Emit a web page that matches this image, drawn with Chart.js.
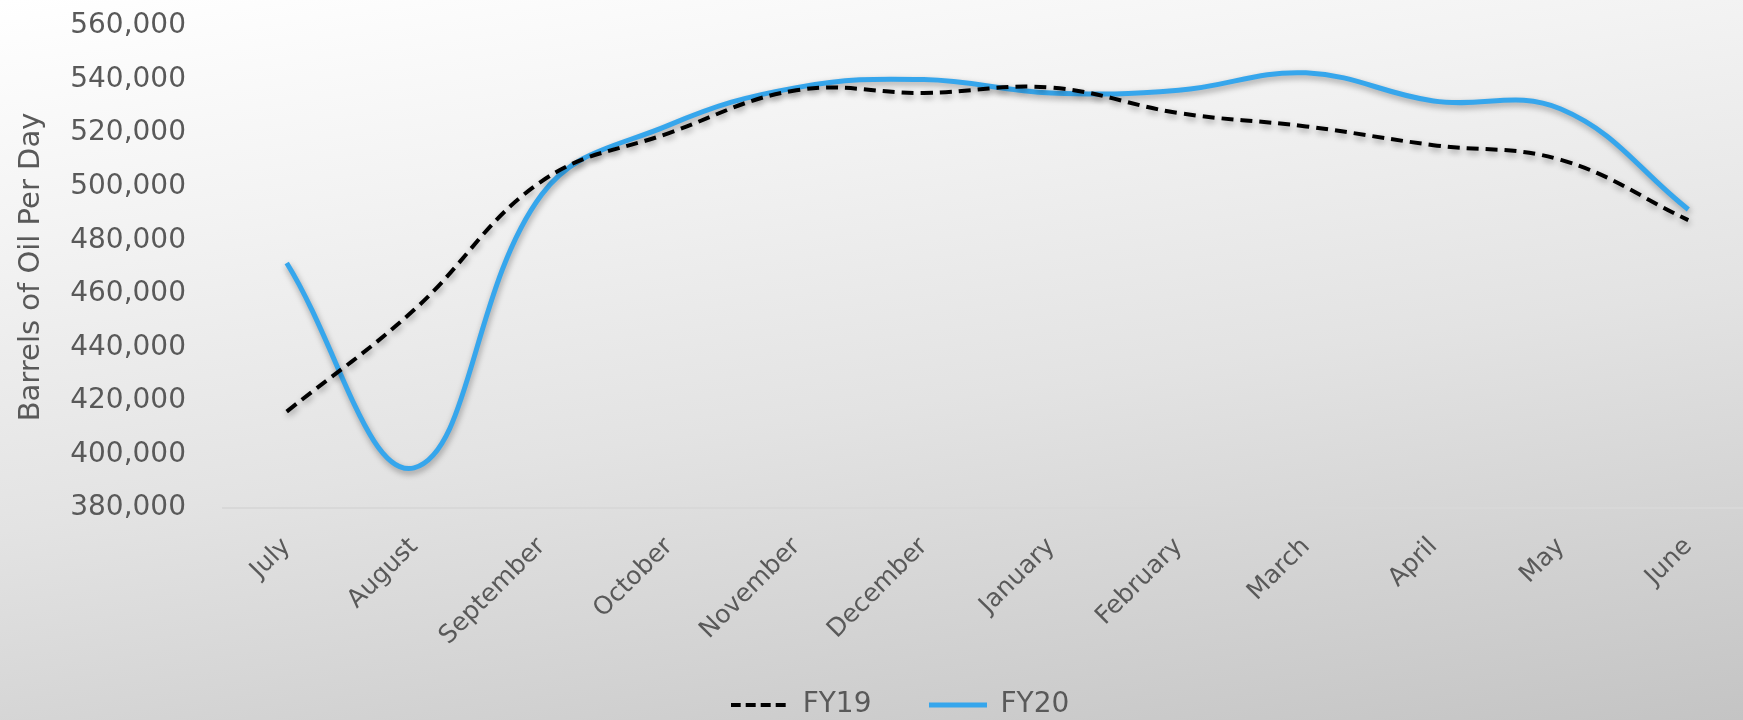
<!DOCTYPE html>
<html>
<head>
<meta charset="utf-8">
<script src="https://cdn.jsdelivr.net/npm/chart.js@4/dist/chart.umd.min.js"></script>
<style>
    html, body { margin: 0; padding: 0; overflow: hidden; }
    body {
        width: 1743px;
        height: 720px;
        background: linear-gradient(172deg, #ffffff 0%, #f3f3f3 25%, #e3e3e3 55%, #c4c4c4 100%);
    }
    #wrap { width: 1760px; height: 720px; position: relative; }
</style>
</head>
<body>
<div id="wrap"><canvas id="oilChart"></canvas></div>
<script>
// months of the fiscal year
const months = ['July', 'August', 'September', 'October', 'November', 'December',
                'January', 'February', 'March', 'April', 'May', 'June'];

// barrels of oil per day
const fy19 = [416000, 454000, 502000, 520000, 536000, 535000, 537000, 527500, 522500, 515500, 510000, 487500];
const fy20 = [471500, 395000, 497000, 523000, 537000, 540000, 535000, 536000, 542500, 532000, 529000, 491500];

// y axis range
const yMin = 380000;
const yMax = 560000;
const yStep = 20000;

const textColor = '#595959';
const fontName = '"DejaVu Sans", sans-serif';
const plotTop = 26;
const plotBottom = 508;
const padLeft = 48;
const legendGap = 57;

// small line swatch for the legend (closePath in the built-in 'line' style hides the dashes)
function lineSwatch(color, width, dash) {
    const c = document.createElement('canvas');
    c.width = 58;
    c.height = 8;
    const g = c.getContext('2d');
    g.strokeStyle = color;
    g.lineWidth = width;
    g.setLineDash(dash);
    g.beginPath();
    g.moveTo(0, 4);
    g.lineTo(58, 4);
    g.stroke();
    return c;
}

// soft drop shadow under the lines
const lineShadow = {
    id: 'lineShadow',
    beforeDatasetDraw(chart) {
        const ctx = chart.ctx;
        ctx.save();
        ctx.shadowColor = 'rgba(0, 0, 0, 0.35)';
        ctx.shadowBlur = 6;
        ctx.shadowOffsetX = 1;
        ctx.shadowOffsetY = 3;
    },
    afterDatasetDraw(chart) {
        chart.ctx.restore();
    }
};

// let the rotated month labels run down past the axis box
const labelRoom = {
    id: 'labelRoom',
    afterLayout(chart) {
        chart.scales.x.bottom = chart.height;
    }
};

document.addEventListener('DOMContentLoaded', function () {
    const ctx = document.getElementById('oilChart').getContext('2d');
    const oilChart = new Chart(ctx, {
        type: 'line',
        data: {
            labels: months,
            datasets: [{
                label: 'FY19',
                data: fy19,
                borderColor: '#000000',
                backgroundColor: '#000000',
                borderWidth: 4,
                borderDash: [12, 7],
                pointRadius: 0,
                pointStyle: lineSwatch('#000000', 4, [10, 5]),
                tension: 0.4,
                fill: false
            }, {
                label: 'FY20',
                data: fy20,
                borderColor: '#36a6ec',
                backgroundColor: '#36a6ec',
                borderWidth: 5,
                pointRadius: 0,
                pointStyle: lineSwatch('#36a6ec', 5, []),
                tension: 0.4,
                fill: false
            }]
        },
        options: {
            responsive: true,
            maintainAspectRatio: false,
            animation: false,
            layout: {
                padding: { top: plotTop, left: padLeft, right: 8, bottom: 0 }
            },
            plugins: {
                tooltip: { enabled: false },
                legend: {
                    position: 'bottom',
                    maxHeight: legendGap + 29,
                    labels: {
                        color: textColor,
                        font: { family: fontName, size: 28 },
                        usePointStyle: true,
                        pointStyleWidth: 58,
                        boxWidth: 58,
                        boxHeight: 20,
                        padding: legendGap
                    }
                }
            },
            scales: {
                x: {
                    offset: true,
                    grid: { display: false, drawTicks: false },
                    border: { display: true, color: '#d8d8d8', width: 2 },
                    ticks: {
                        color: textColor,
                        font: { family: fontName, size: 25 },
                        minRotation: 45,
                        maxRotation: 45,
                        padding: 24
                    },
                    afterFit(scale) {
                        const legendH = scale.chart.legend ? scale.chart.legend.height : 0;
                        scale.height = 720 - plotBottom - legendH;
                    }
                },
                y: {
                    min: yMin,
                    max: yMax,
                    grid: { display: false, drawTicks: false },
                    border: { display: false },
                    ticks: {
                        stepSize: yStep,
                        color: textColor,
                        font: { family: fontName, size: 28 },
                        padding: 37,
                        callback: value => value.toLocaleString('en-US')
                    },
                    title: {
                        display: true,
                        text: 'Barrels of Oil Per Day',
                        color: textColor,
                        font: { family: fontName, size: 29 },
                        padding: { top: 14 - padLeft, bottom: 0 }
                    },
                    afterFit(scale) {
                        scale.width = 223 - padLeft;
                        scale.paddingTop = 0;
                    }
                }
            }
        },
        plugins: [lineShadow, labelRoom]
    });
});
</script>
</body>
</html>
